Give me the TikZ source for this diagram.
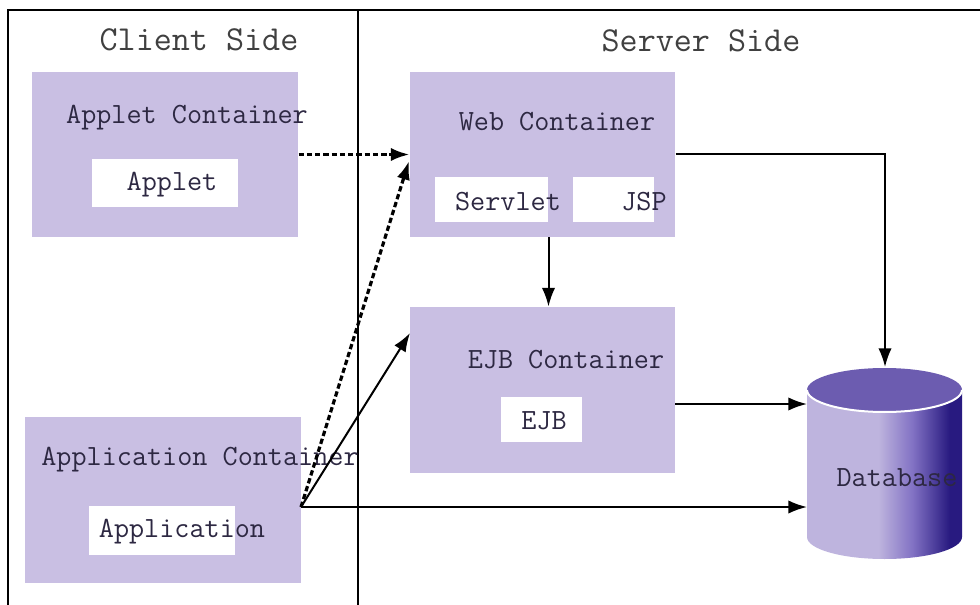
\documentclass[tikz,border=0pt]{standalone}
\usepackage{fontspec}
\usetikzlibrary{arrows.meta,fit}

\definecolor{boxfill}{RGB}{201,191,227}
\definecolor{txtcol}{RGB}{45,40,66}
\definecolor{dblight}{RGB}{190,180,222}
\definecolor{dbmid}{RGB}{130,114,196}
\definecolor{dbdark}{RGB}{40,26,128}
\definecolor{dbtopcol}{RGB}{108,92,176}

\pgfdeclarehorizontalshading{dbshade}{100bp}{color(0bp)=(dblight); color(48bp)=(dblight); color(59bp)=(dbmid); color(71bp)=(dbdark); color(100bp)=(dbdark)}

\tikzset{every picture/.style={line width=0.75pt}}
\tikzset{
  cbox/.style={fill=boxfill, inner sep=0pt},
  wbox/.style={fill=white, inner sep=0pt},
  lbl/.style={font=\ttfamily\fontsize{22}{24}\selectfont, text=txtcol, inner sep=0pt},
  head/.style={font=\ttfamily\fontsize{26.3}{28}\selectfont, text=black!75, inner sep=0pt},
  link/.style={line width=1.5, -{Latex[length=14pt,width=10pt]}},
  dlink/.style={link, line width=2.4, dash pattern=on 4pt off 2.2pt}
}

\begin{document}
\begin{tikzpicture}[x=0.75pt,y=0.75pt,yscale=-1,xscale=1]
\useasboundingbox (0,0) rectangle (980,605);

%Frame
\draw [line width=1.5] (8,605) -- (8,10) -- (980,10) ;
\draw [line width=1.2] (358,10) -- (358,605) ;

%Containers
\node [cbox, fit={(32,72) (298,237)}] (appletc) {} ;
\node [cbox, fit={(410,72) (675,237)}] (webc) {} ;
\node [cbox, fit={(410,307) (675,473)}] (ejbc) {} ;
\node [cbox, fit={(25,417) (301,583)}] (appc) {} ;

%Components
\node [wbox, fit={(92,159) (238,207)}] (applet) {} ;
\node [wbox, fit={(435,177) (548,222)}] (servlet) {} ;
\node [wbox, fit={(573,177) (654,222)}] (jsp) {} ;
\node [wbox, fit={(501,397) (582,442)}] (ejb) {} ;
\node [wbox, fit={(89,506) (235,555)}] (application) {} ;

%Database
\shade [shading=dbshade] (807,390) -- (807,537) arc [start angle=180, end angle=0, x radius=77.5, y radius=22] -- (962,390) -- cycle ;
\fill [dbtopcol] (884.5,390) ellipse [x radius=77.5, y radius=22] ;
\draw [white, line width=1.5] (807,390) arc [start angle=180, end angle=0, x radius=77.5, y radius=22] ;
\coordinate (dbtop) at (885,367) ;
\coordinate (dbin1) at (807,404) ;
\coordinate (dbin2) at (807,507) ;

% Text Node
\node [head] (client) at (199,40) {Client Side} ;
% Text Node
\node [head] (server) at (701,41) {Server Side} ;
% Text Node
\node [lbl] at (187,118) {Applet Container} ;
% Text Node
\node [lbl] at (172,185) {Applet} ;
% Text Node
\node [lbl] at (557,122) {Web Container} ;
% Text Node
\node [lbl] at (508,202) {Servlet} ;
% Text Node
\node [lbl] at (644,202) {JSP} ;
% Text Node
\node [lbl] at (566,360) {EJB Container} ;
% Text Node
\node [lbl] at (544,421) {EJB} ;
% Text Node
\node [lbl] at (200,460) {Application Container} ;
% Text Node
\node [lbl] at (182,532) {Application} ;
% Text Node
\node [lbl] (db) at (897,478) {Database} ;

%Connectors
\coordinate (appout) at (301,507) ;
\coordinate (webin) at (409,161) ;
\coordinate (ejbin) at (410,333) ;
\coordinate (ejbout) at (675,404) ;
\draw [dlink] (appletc.east) -- (webc.west) ;
\draw [dlink] (appout) -- (webin) ;
\draw [link] (appout) -- (ejbin) ;
\draw [link] (appout) -- (dbin2) ;
\draw [link] (servlet.east |- webc.south) -- (servlet.east |- ejbc.north) ;
\draw [link] (webc.east) -| (dbtop) ;
\draw [link] (ejbout) -- (dbin1) ;

\end{tikzpicture}
\end{document}
